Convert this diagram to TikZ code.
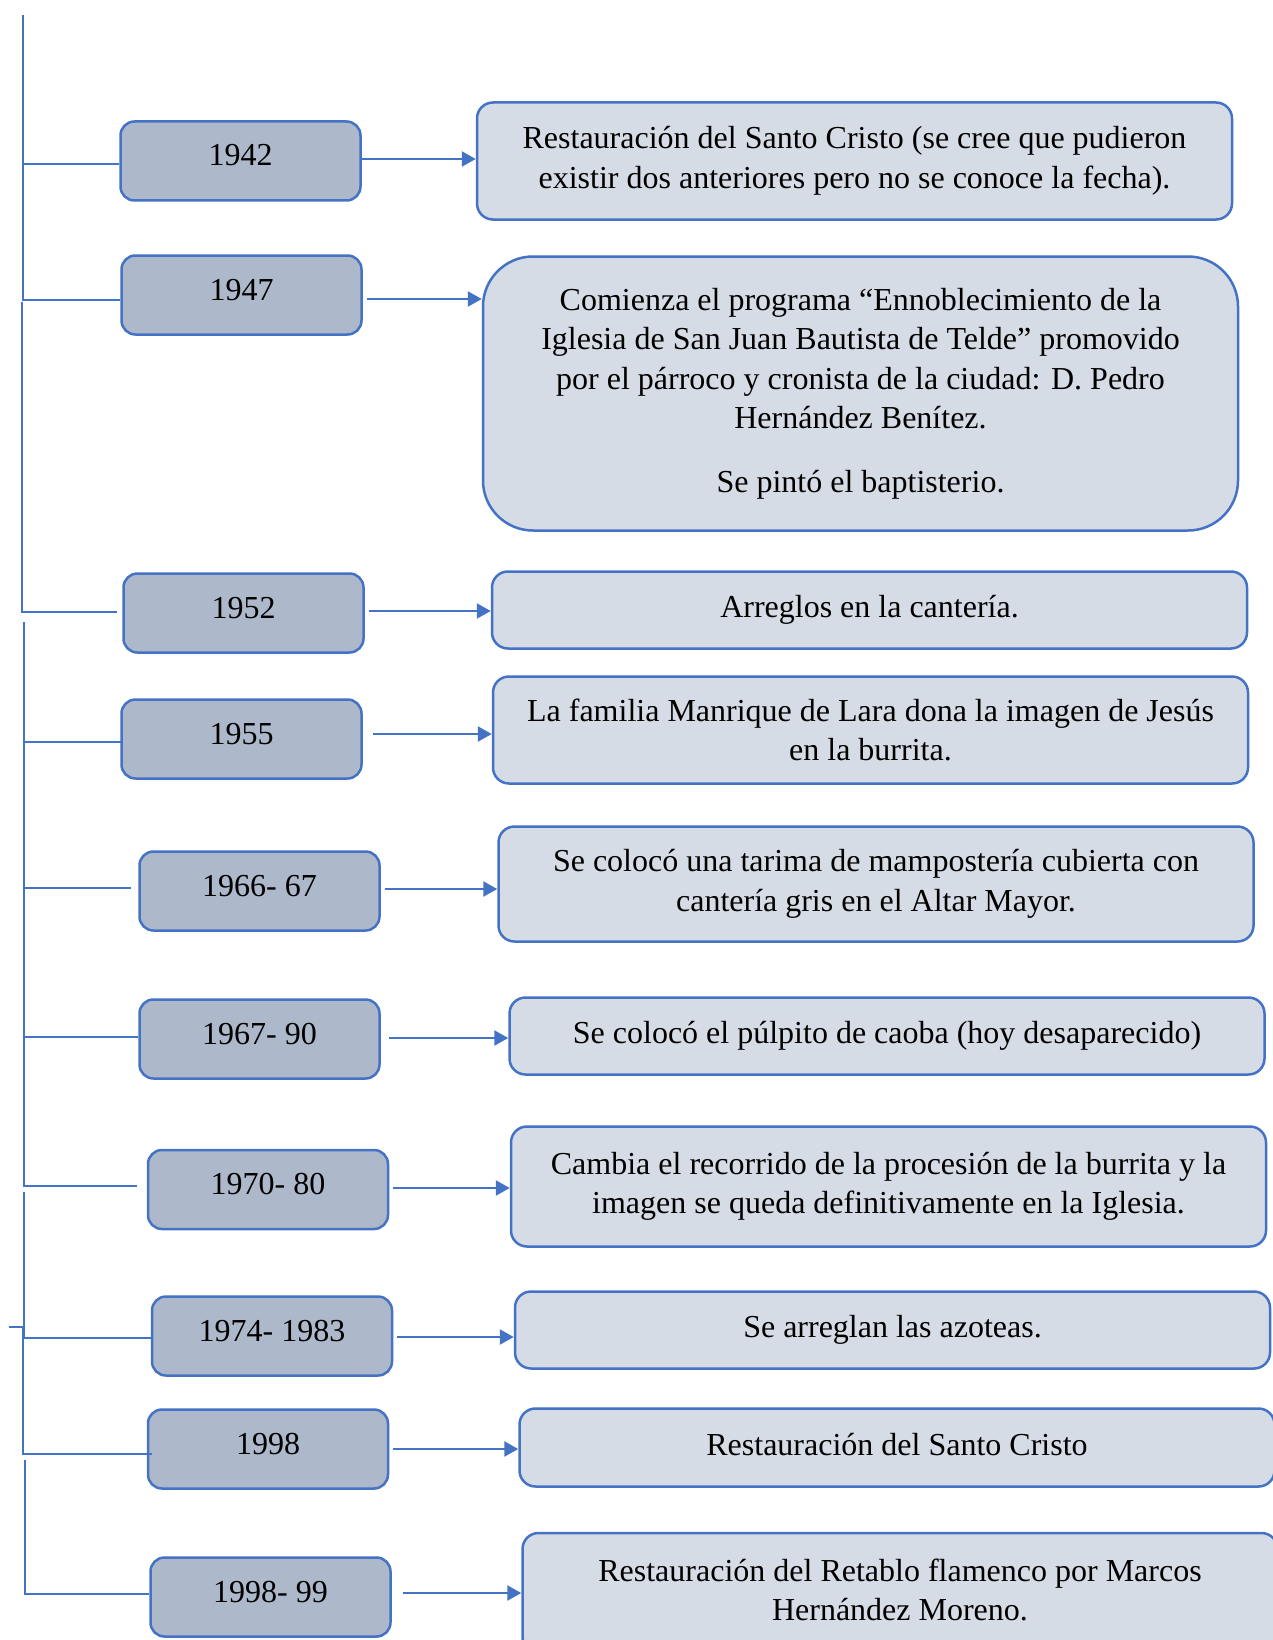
\documentclass[tikz,border=0pt]{standalone}
\usepackage{fontspec}
\setmainfont{Liberation Serif}
\usetikzlibrary{arrows.meta}
\definecolor{edge}{HTML}{4472C4}
\definecolor{yearfill}{HTML}{ADB9CA}
\definecolor{notefill}{HTML}{D6DCE5}

\begin{document}
\begin{tikzpicture}[x=1pt,y=-1pt,
  yearbox/.style={draw=edge, line width=2.5pt, fill=yearfill, rounded corners=14pt,
    minimum width=240pt, minimum height=79pt, inner sep=0pt,
    font=\fontsize{32}{39.5}\selectfont, text height=21.5pt, text depth=11.5pt},
  notebox/.style={draw=edge, line width=2.5pt, fill=notefill, rounded corners=16pt,
    minimum width=755pt, inner sep=0pt, align=center,
    font=\fontsize{32}{39.5}\selectfont},
  spine/.style={draw=edge, line width=2.4pt},
  link/.style={draw=edge, line width=2.4pt, -{Triangle[length=14pt,width=15pt]}},
]
\useasboundingbox (0,0) rectangle (1272,1640);

% year boxes
\node[yearbox] (y42)   at (240.5,161)  {1942};
\node[yearbox] (y47)   at (241.5,295)  {1947};
\node[yearbox] (y52)   at (243.5,613)  {1952};
\node[yearbox] (y55)   at (241.5,739)  {1955};
\node[yearbox] (y66)   at (259.5,891)  {1966- 67};
\node[yearbox] (y67)   at (259.5,1039) {1967- 90};
\node[yearbox] (y70)   at (268,1189.5) {1970- 80};
\node[yearbox] (y74)   at (272,1336)   {1974- 1983};
\node[yearbox] (y98)   at (268,1449)   {1998};
\node[yearbox] (y9899) at (270.5,1597) {1998- 99};

% description boxes
\node[notebox, minimum height=117pt] (d42) at (854.5,161)
  {Restauración del Santo Cristo (se cree que pudieron\\existir dos anteriores pero no se conoce la fecha).};
\node[notebox, minimum height=274pt, rounded corners=50pt] (d47) at (860.5,393.5)
  {Comienza el programa “Ennoblecimiento de la\\Iglesia de San Juan Bautista de Telde” promovido\\por el párroco y cronista de la ciudad: D. Pedro\\Hernández Benítez.\\[24pt]Se pintó el baptisterio.};
\node[notebox, minimum height=77pt] (d52) at (869.5,610)
  {Arreglos en la cantería.};
\node[notebox, minimum height=107pt] (d55) at (870.5,730)
  {La familia Manrique de Lara dona la imagen de Jesús\\en la burrita.};
\node[notebox, minimum height=115pt] (d66) at (876,884)
  {Se colocó una tarima de mampostería cubierta con\\cantería gris en el Altar Mayor.};
\node[notebox, minimum height=77pt] (d67) at (887,1036)
  {Se colocó el púlpito de caoba (hoy desaparecido)};
\node[notebox, minimum height=120pt] (d70) at (888.5,1186.5)
  {Cambia el recorrido de la procesión de la burrita y la\\imagen se queda definitivamente en la Iglesia.};
\node[notebox, minimum height=77pt] (d74) at (892.5,1330)
  {Se arreglan las azoteas.};
\node[notebox, minimum height=78pt, text depth=7pt] (d98) at (897,1447.5)
  {Restauración del Santo Cristo};
\node[notebox, minimum height=120pt, text depth=7pt] (d9899) at (900,1593)
  {Restauración del Retablo flamenco por Marcos\\Hernández Moreno.};

% spine coordinates
\coordinate (a0) at (23,15);
\coordinate (a1) at (23,164);
\coordinate (a2) at (23,300);
\coordinate (b0) at (22,302);
\coordinate (b1) at (22,612);
\coordinate (c0) at (24,622);
\coordinate (c1) at (24,742);
\coordinate (c2) at (24,888);
\coordinate (c3) at (24,1037);
\coordinate (c4) at (24,1186);
\coordinate (e0) at (24,1192);
\coordinate (e1) at (24,1338);
\coordinate (f0) at (9,1327);
\coordinate (f1) at (23,1327);
\coordinate (f2) at (23,1454);
\coordinate (g0) at (25,1460);
\coordinate (g1) at (25,1594);

% spine segments and branches
\draw[spine] (a0) -- (a2) -- (y47.west |- a2);
\draw[spine] (a1) -- (y42.west |- a1);
\draw[spine] (b0) -- (b1) -- ([xshift=-5pt]y52.west |- b1);
\draw[spine] (c0) -- (c4) -- ([xshift=-10pt]y70.west |- c4);
\draw[spine] (c1) -- ([xshift=3pt]y55.west |- c1);
\draw[spine] (c2) -- ([xshift=-7pt]y66.west |- c2);
\draw[spine] (c3) -- (y67.west |- c3);
\draw[spine] (e0) -- (e1) -- (y74.west |- e1);
\draw[spine] (f0) -- (f1) -- (f2) -- ([xshift=5pt]y98.west |- f2);
\draw[spine] (g0) -- (g1) -- (y9899.west |- g1);

% arrows to descriptions
\draw[link] (y42.east |- 0,159) -- (d42.west |- 0,159);
\draw[link, shorten <=4pt] (y47.east |- 0,299) -- (d47.west |- 0,299);
\draw[link, shorten <=4pt] (y52.east |- 0,611) -- (d52.west |- 0,611);
\draw[link, shorten <=10pt] (y55.east |- 0,734) -- (d55.west |- 0,734);
\draw[link, shorten <=4pt] (y66.east |- 0,889) -- (d66.west |- 0,889);
\draw[link, shorten <=8pt] (y67.east |- 0,1038) -- (d67.west |- 0,1038);
\draw[link, shorten <=4pt] (y70.east |- 0,1188) -- (d70.west |- 0,1188);
\draw[link, shorten <=4pt] (y74.east |- 0,1337) -- (d74.west |- 0,1337);
\draw[link, shorten <=4pt] (y98.east |- 0,1449) -- (d98.west |- 0,1449);
\draw[link, shorten <=11pt] (y9899.east |- 0,1593) -- (d9899.west |- 0,1593);
\end{tikzpicture}
\end{document}
